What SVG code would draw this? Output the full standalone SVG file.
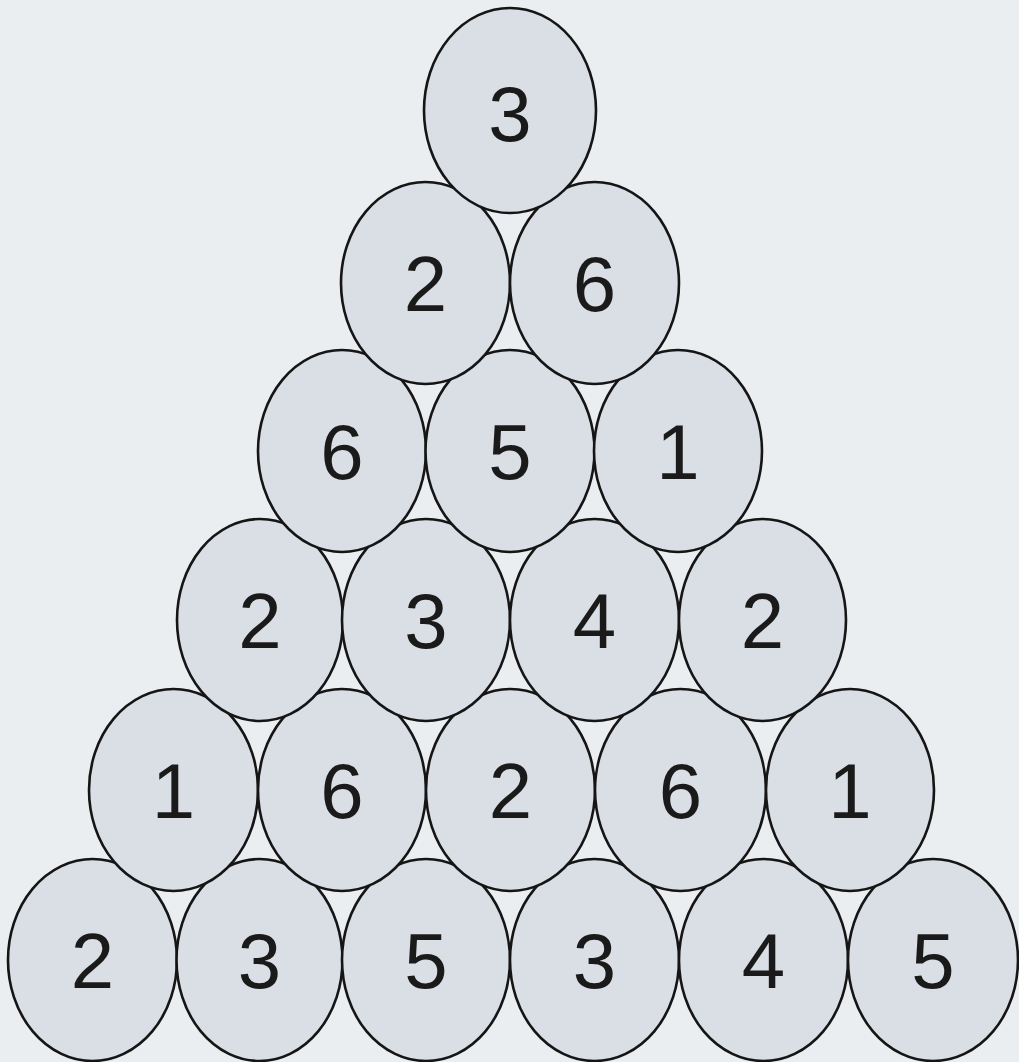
<svg xmlns="http://www.w3.org/2000/svg" width="1019" height="1062" viewBox="0 0 1019 1062">
<style>
.n ellipse{fill:#dadee5;stroke:#151515;stroke-width:2.6}
.n text{font-family:"Liberation Sans",Arial,sans-serif;font-size:78px;fill:#1a1a1a;text-anchor:middle}
</style>
<rect width="1019" height="1062" fill="#eaeef0"/>
<g id="connectors"></g>
<g id="row6">
<g id="n6a" class="n"><ellipse cx="92.5" cy="960" rx="84.5" ry="101"/><text x="92.5" y="988">2</text></g>
<g id="n6b" class="n"><ellipse cx="259.5" cy="960" rx="83" ry="101"/><text x="259.5" y="988">3</text></g>
<g id="n6c" class="n"><ellipse cx="426" cy="960" rx="84" ry="101"/><text x="426" y="988">5</text></g>
<g id="n6d" class="n"><ellipse cx="594.5" cy="960" rx="84.5" ry="101"/><text x="594.5" y="988">3</text></g>
<g id="n6e" class="n"><ellipse cx="763.5" cy="960" rx="84.5" ry="101"/><text x="763.5" y="988">4</text></g>
<g id="n6f" class="n"><ellipse cx="933" cy="960" rx="85" ry="101"/><text x="933" y="988">5</text></g>
</g>
<g id="row5">
<g id="n5a" class="n"><ellipse cx="173.5" cy="790" rx="84.5" ry="101"/><text x="173.5" y="818">1</text></g>
<g id="n5b" class="n"><ellipse cx="342" cy="790" rx="84" ry="101"/><text x="342" y="818">6</text></g>
<g id="n5c" class="n"><ellipse cx="510.5" cy="790" rx="84.5" ry="101"/><text x="510.5" y="818">2</text></g>
<g id="n5d" class="n"><ellipse cx="680.5" cy="790" rx="85.5" ry="101"/><text x="680.5" y="818">6</text></g>
<g id="n5e" class="n"><ellipse cx="850" cy="790" rx="84" ry="101"/><text x="850" y="818">1</text></g>
</g>
<g id="row4">
<g id="n4a" class="n"><ellipse cx="260" cy="620" rx="83" ry="101"/><text x="260" y="648">2</text></g>
<g id="n4b" class="n"><ellipse cx="426" cy="620" rx="84" ry="101"/><text x="426" y="648">3</text></g>
<g id="n4c" class="n"><ellipse cx="594.5" cy="620" rx="84.5" ry="101"/><text x="594.5" y="648">4</text></g>
<g id="n4d" class="n"><ellipse cx="762.5" cy="620" rx="83.5" ry="101"/><text x="762.5" y="648">2</text></g>
</g>
<g id="row3">
<g id="n3a" class="n"><ellipse cx="342" cy="451" rx="84" ry="101"/><text x="342" y="479">6</text></g>
<g id="n3b" class="n"><ellipse cx="510" cy="451" rx="84.5" ry="101"/><text x="510" y="479">5</text></g>
<g id="n3c" class="n"><ellipse cx="678" cy="451" rx="84" ry="101"/><text x="678" y="479">1</text></g>
</g>
<g id="row2">
<g id="n2a" class="n"><ellipse cx="425.5" cy="283" rx="84.5" ry="101"/><text x="425.5" y="311">2</text></g>
<g id="n2b" class="n"><ellipse cx="594.5" cy="283" rx="84.5" ry="101"/><text x="594.5" y="311">6</text></g>
</g>
<g id="row1">
<g id="n1a" class="n"><ellipse cx="510" cy="110.5" rx="86" ry="102.5"/><text x="510" y="141">3</text></g>
</g>
</svg>
